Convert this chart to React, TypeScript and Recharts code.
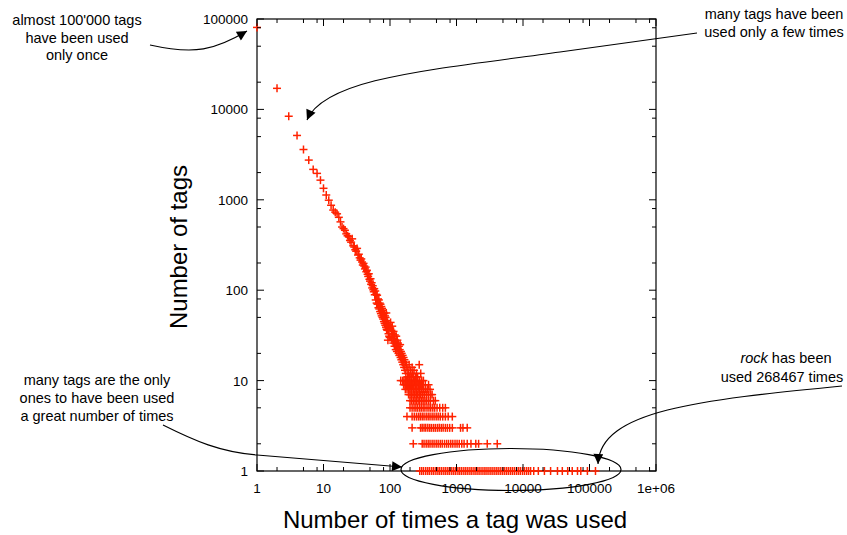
import React from "react";
import { ScatterChart, Scatter, XAxis, YAxis } from "recharts";

const W = 847;
const H = 535;
const PLOT_LEFT = 257;
const PLOT_TOP = 19;
const PLOT_RIGHT = 656;
const PLOT_BOTTOM = 471;
const FONT = "'Liberation Sans', Arial, Helvetica, sans-serif";
const MARKER = "#ff2200";

// number of tags used exactly n times, n = 1..100 (index + 1)
const headCounts = [
  80700, 17100, 8400, 5150, 3600, 2750, 2170, 1960, 1650, 1340,
  1130, 990, 870, 770, 730, 700, 640, 570, 500, 480,
  460, 420, 400, 390, 355, 340, 370, 310, 300, 280,
  270, 290, 245, 250, 228, 215, 222, 205, 190, 198,
  185, 172, 180, 160, 166, 150, 142, 152, 132, 126,
  134, 116, 121, 106, 112, 101, 96, 104, 89, 98,
  78, 90, 72, 88, 70, 80, 64, 78, 62, 72,
  58, 70, 55, 66, 52, 63, 50, 60, 48, 57,
  45, 55, 43, 52, 41, 50, 39, 56, 37, 46,
  36, 44, 28, 42, 33, 41, 31, 39, 30, 38,
];

// sparser usage counts beyond 100 (count still above 10)
const tailUses = [
  102, 104, 105, 107, 108, 110, 112, 113, 115, 117, 118, 120, 122, 124, 125,
  127, 129, 130, 132, 134, 136, 138, 140, 142, 144, 146, 148, 150, 153, 155,
  158, 160, 163, 165, 168, 170, 173, 176, 180, 183, 186, 190, 194, 198, 202,
  206, 210, 215, 220, 225, 230, 240, 250, 260, 275, 290,
];
const tailCounts = [
  44, 30, 36, 28, 40, 33, 26, 35, 29, 24, 32, 27, 22, 31, 25,
  21, 28, 23, 26, 20, 24, 19, 22, 25, 18, 21, 17, 20, 16, 19,
  15, 18, 14, 17, 13, 16, 12, 15, 14, 11, 13, 12, 15, 11, 13,
  12, 11, 14, 12, 11, 13, 11, 12, 11, 15, 12,
];

// usage counts shared by exactly k tags (k = 1..10)
const usesBy10 = [145, 155, 162, 170, 178, 185, 192, 200, 210, 222, 235, 248, 262, 280, 300, 318];
const usesBy9 = [160, 168, 176, 185, 195, 205, 216, 228, 240, 255, 270, 290, 310, 340, 380];
const usesBy8 = [170, 180, 190, 200, 212, 225, 238, 250, 265, 280, 300, 320, 345, 370, 400];
const usesBy7 = [190, 200, 210, 222, 235, 248, 260, 275, 290, 310, 330, 355, 380, 410, 430];
const usesBy6 = [200, 212, 225, 238, 250, 265, 280, 298, 315, 335, 355, 380, 405, 450, 480];
const usesBy5 = [200, 215, 230, 245, 260, 278, 295, 315, 335, 360, 385, 410, 440, 470, 510, 560, 620, 680];
const usesBy4 = [180, 215, 232, 250, 268, 285, 305, 325, 350, 375, 400, 430, 460, 495, 530, 570, 620, 680, 750, 865];
const usesBy3 = [215, 288, 305, 325, 345, 370, 395, 420, 450, 480, 515, 550, 590, 630, 680, 730, 790, 865, 1150, 1250, 1450];
const usesBy2 = [
  224, 305, 325, 350, 375, 400, 430, 460, 495, 530, 570, 610, 660, 710, 760, 820, 880, 950,
  1020, 1100, 1200, 1300, 1450, 1650, 1950, 2150, 2900, 4100,
];
const usesBy1 = [
  280, 300, 320, 345, 370, 395, 425, 455, 490, 525, 560, 600, 645, 690, 740, 790, 850, 910,
  975, 1050, 1120, 1200, 1290, 1380, 1480, 1590, 1700, 1830, 1960, 2100, 2250, 2420, 2600,
  2780, 2980, 3200, 3430, 3680, 3950, 4230, 4540, 4870, 5220, 5600, 6000, 6440, 6900, 7400,
  7950, 8500, 9100, 9800, 10500, 11300, 12100, 13000, 14500, 17000, 21000, 26000, 33000,
  39000, 47000, 55000, 66000, 74000, 93000, 123000,
];

const X_TICKS = [
  1, 2, 5, 8, 10, 20, 50, 80, 100, 200, 500, 800, 1000, 2000, 5000, 8000,
  10000, 20000, 50000, 80000, 100000, 200000, 500000, 800000, 1000000,
];
const Y_TICKS = [
  1, 2, 5, 8, 10, 20, 50, 80, 100, 200, 500, 800, 1000, 2000, 5000, 8000, 10000,
  20000, 50000, 80000, 100000,
];
const X_LABELS: Record<number, string> = {
  1: "1", 10: "10", 100: "100", 1000: "1000", 10000: "10000", 100000: "100000", 1000000: "1e+06",
};
const Y_LABELS: Record<number, string> = {
  1: "1", 10: "10", 100: "100", 1000: "1000", 10000: "10000", 100000: "100000",
};

const rows: [number, number[]][] = [
  [10, usesBy10], [9, usesBy9], [8, usesBy8], [7, usesBy7], [6, usesBy6],
  [5, usesBy5], [4, usesBy4], [3, usesBy3], [2, usesBy2], [1, usesBy1],
];

const points = [
  ...headCounts.map((y, i) => ({ x: i + 1, y })),
  ...tailUses.map((x, i) => ({ x, y: tailCounts[i] })).filter((p) => p.y !== undefined),
  ...rows.flatMap(([y, xs]) => xs.map((x) => ({ x, y }))),
];

function Plus(props: any) {
  const { cx, cy } = props;
  if (cx == null || cy == null) return null;
  return (
    <g stroke={MARKER} strokeWidth={1.5}>
      <line x1={cx - 4} x2={cx + 4} y1={cy} y2={cy} />
      <line x1={cx} x2={cx} y1={cy - 4} y2={cy + 4} />
    </g>
  );
}

function XTick(props: any) {
  const { x, y, payload } = props;
  const label = X_LABELS[payload.value];
  const len = label ? 7 : 4;
  return (
    <g>
      <line x1={x} x2={x} y1={y} y2={y - len} stroke="#000" />
      <line x1={x} x2={x} y1={PLOT_TOP} y2={PLOT_TOP + len} stroke="#000" />
      {label && (
        <text x={x} y={y + 22} textAnchor="middle" fontSize={13.5} fontFamily={FONT} fill="#000">
          {label}
        </text>
      )}
    </g>
  );
}

function YTick(props: any) {
  const { x, y, payload } = props;
  const label = Y_LABELS[payload.value];
  const len = label ? 7 : 4;
  return (
    <g>
      <line x1={x} x2={x + len} y1={y} y2={y} stroke="#000" />
      <line x1={PLOT_RIGHT} x2={PLOT_RIGHT - len} y1={y} y2={y} stroke="#000" />
      {label && (
        <text x={x - 9} y={y + 5} textAnchor="end" fontSize={13.5} fontFamily={FONT} fill="#000">
          {label}
        </text>
      )}
    </g>
  );
}

// plot frame, drawn underneath the chart so markers on the border stay red
function Frame() {
  return (
    <svg width={W} height={H} style={{ position: "absolute", left: 0, top: 0 }}>
      <rect
        x={PLOT_LEFT}
        y={PLOT_TOP}
        width={PLOT_RIGHT - PLOT_LEFT}
        height={PLOT_BOTTOM - PLOT_TOP}
        fill="none"
        stroke="#000"
        strokeWidth={1.2}
      />
    </svg>
  );
}

function Annotations() {
  const t = { fontSize: 14.5, fontFamily: FONT, fill: "#000", textAnchor: "middle" as const };
  return (
    <svg
      width={W}
      height={H}
      style={{ position: "absolute", left: 0, top: 0, pointerEvents: "none" }}
    >
      <defs>
        <marker
          id="head"
          viewBox="0 0 10 10"
          refX="10"
          refY="5"
          markerUnits="userSpaceOnUse"
          markerWidth="15"
          markerHeight="10"
          orient="auto"
        >
          <path d="M0,0 L10,5 L0,10 z" fill="#000" />
        </marker>
      </defs>

      <text {...t} x={77} y={25}>almost 100'000 tags</text>
      <text {...t} x={77} y={42.5}>have been used</text>
      <text {...t} x={77} y={60}>only once</text>
      <path d="M 150 45 C 195 55, 215 50, 247 31" fill="none" stroke="#000" strokeWidth={1.1} markerEnd="url(#head)" />

      <text {...t} x={774} y={19}>many tags have been</text>
      <text {...t} x={774} y={36.5}>used only a few times</text>
      <path d="M 697 33 L 560 52 C 430 70, 325 78, 307 120" fill="none" stroke="#000" strokeWidth={1.1} markerEnd="url(#head)" />

      <text {...t} x={97} y={385}>many tags are the only</text>
      <text {...t} x={97} y={403}>ones to have been used</text>
      <text {...t} x={97} y={421}>a great number of times</text>
      <path d="M 163 425 C 195 441, 220 452, 257 455 L 402 467" fill="none" stroke="#000" strokeWidth={1.1} markerEnd="url(#head)" />

      <text {...t} x={786} y={363}>
        <tspan fontStyle="italic">rock</tspan> has been
      </text>
      <text {...t} x={782} y={382}>used 268467 times</text>
      <path d="M 842 386 C 700 400, 600 410, 598 464" fill="none" stroke="#000" strokeWidth={1.1} markerEnd="url(#head)" />

      <ellipse cx={511} cy={469.5} rx={110} ry={21} fill="none" stroke="#000" strokeWidth={1.2} />

      <text x={455} y={528} textAnchor="middle" fontSize={24} fontFamily={FONT} fill="#000">
        Number of times a tag was used
      </text>
      <text
        x={178}
        y={247}
        textAnchor="middle"
        dominantBaseline="central"
        fontSize={24}
        fontFamily={FONT}
        fill="#000"
        transform="rotate(-90 178 247)"
      >
        Number of tags
      </text>
    </svg>
  );
}

export default function App() {
  const yAxisWidth = 60;
  const xAxisHeight = 40;
  return (
    <div style={{ position: "absolute", left: 0, top: 0, width: W, height: H, background: "#fff" }}>
      <Frame />
      <div style={{ position: "absolute", left: 0, top: 0 }}>
        <ScatterChart
          width={W}
          height={H}
          margin={{
            top: PLOT_TOP,
            right: W - PLOT_RIGHT,
            bottom: H - PLOT_BOTTOM - xAxisHeight,
            left: PLOT_LEFT - yAxisWidth,
          }}
        >
          <XAxis
            type="number"
            dataKey="x"
            scale="log"
            domain={[1, 1000000]}
            ticks={X_TICKS}
            interval={0}
            tick={<XTick />}
            tickSize={0}
            tickMargin={0}
            tickLine={false}
            axisLine={false}
            height={xAxisHeight}
          />
          <YAxis
            type="number"
            dataKey="y"
            scale="log"
            domain={[1, 100000]}
            ticks={Y_TICKS}
            interval={0}
            tick={<YTick />}
            tickSize={0}
            tickMargin={0}
            tickLine={false}
            axisLine={false}
            width={yAxisWidth}
          />
          <Scatter data={points} shape={Plus} isAnimationActive={false} />
        </ScatterChart>
      </div>
      <Annotations />
    </div>
  );
}
